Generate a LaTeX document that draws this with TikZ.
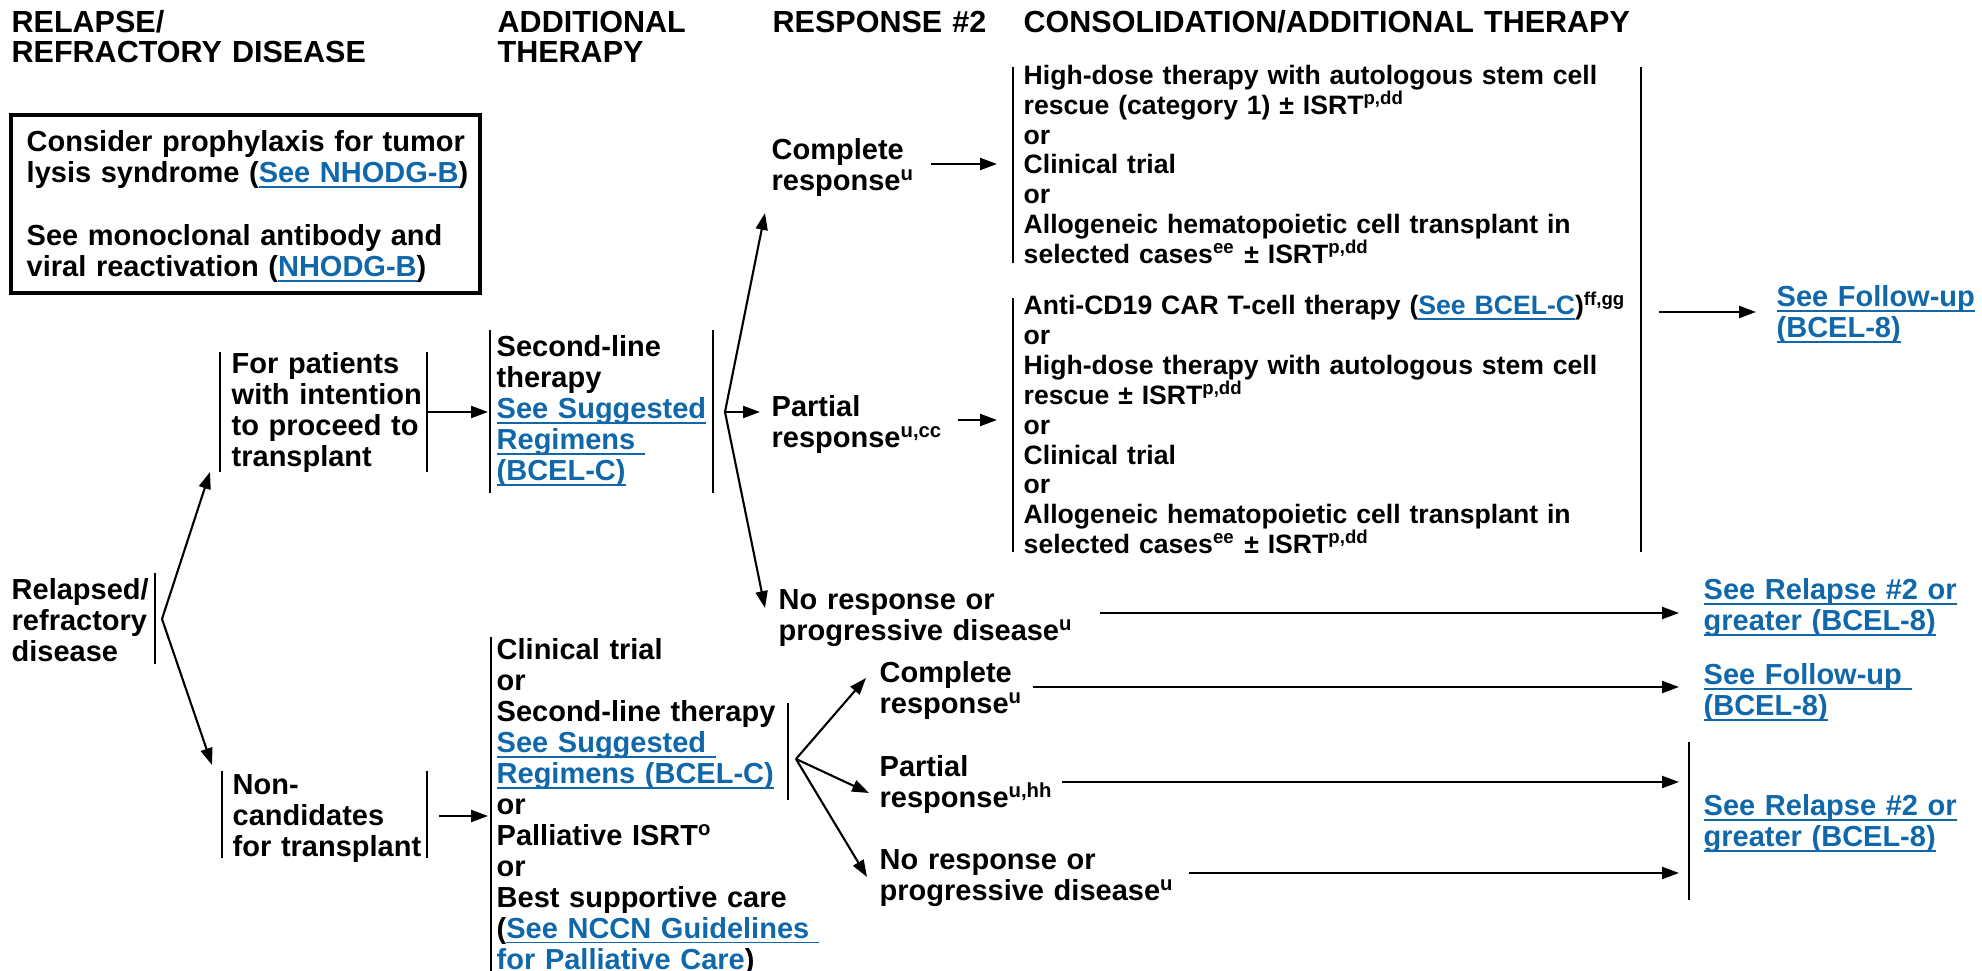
\documentclass[tikz,border=0pt]{standalone}
\usepackage{fontspec}
\setmainfont{Liberation Sans}
\usepackage{xcolor}
\usepackage{tikz}
\usetikzlibrary{arrows.meta}

\definecolor{linkblue}{RGB}{16,104,170}
\newcommand{\lnk}[1]{\textcolor{linkblue}{\setbox0\hbox{#1}\rlap{\rule[-1.45pt]{\wd0}{0.55pt}}#1}}
\newcommand{\bodyfont}{\fontsize{8.25}{8.80}\selectfont\bfseries}
\newcommand{\consfont}{\fontsize{7.57}{8.48}\selectfont\bfseries}
\newcommand{\headfont}{\fontsize{8.68}{8.54}\selectfont\bfseries}

\tikzset{
  txt/.style={anchor=base west, inner sep=0pt, align=left, text width=#1, font=\bodyfont},
  cons/.style={txt=#1, font=\consfont},
  head/.style={txt=#1, font=\headfont},
  bar/.style={line width=0.75pt},
  arr/.style={line width=0.6pt, -{Triangle[length=4.8pt,width=3.4pt]}},
}

\begin{document}
\begin{tikzpicture}
\useasboundingbox (0,0) rectangle (19.82,-9.71);

% Headers
\node[head=4cm] (hrelapse) at (0.11,-0.33) {RELAPSE/\\REFRACTORY DISEASE};
\node[head=3cm] (hadd) at (4.97,-0.33) {ADDITIONAL\\THERAPY};
\node[head=3cm] (hresp) at (7.72,-0.33) {RESPONSE \#2};
\node[head=8cm] (hcons) at (10.23,-0.33) {CONSOLIDATION/ADDITIONAL THERAPY};

% Note
\draw[line width=0.9pt] (0.11,-1.15) rectangle (4.80,-2.93);
\node[txt=4.5cm] (note) at (0.26,-1.52) {Consider prophylaxis for tumor\\lysis syndrome (\lnk{See NHODG-B})\\[0.32cm]See monoclonal antibody and\\viral reactivation (\lnk{NHODG-B})};

% Relapsed / refractory
\node[txt=2cm] (relapsed) at (0.11,-6.00) {Relapsed/\\refractory\\disease};
\draw[bar] (1.55,-5.73) -- (1.55,-6.64);
\coordinate (rsplit) at (1.62,-6.19);
\coordinate (totransp) at (2.10,-4.72);
\coordinate (tononc) at (2.12,-7.65);
\draw[arr] (rsplit) -- (totransp);
\draw[arr] (rsplit) -- (tononc);

% Transplant branch
\node[txt=2.2cm] (transpl) at (2.31,-3.74) {For patients\\with intention\\to proceed to\\transplant};
\draw[bar] (2.20,-3.52) -- (2.20,-4.72);
\draw[bar] (4.27,-3.52) -- (4.27,-4.72);
\coordinate (transpout) at (4.27,-4.12);
\coordinate (seclin) at (4.88,-4.12);
\draw[arr] (transpout) -- (seclin);

\node[txt=2.3cm] (secline) at (4.96,-3.57) {Second-line\\therapy\\\lnk{See Suggested}\\\lnk{Regimens }\\\lnk{(BCEL-C)}};
\draw[bar] (4.90,-3.30) -- (4.90,-4.93);
\draw[bar] (7.13,-3.30) -- (7.13,-4.93);
\coordinate (ssplit) at (7.25,-4.12);
\coordinate (tocr1) at (7.65,-2.13);
\coordinate (topr1) at (7.60,-4.12);
\coordinate (tonr1) at (7.65,-6.08);
\draw[arr] (ssplit) -- (tocr1);
\draw[arr] (ssplit) -- (topr1);
\draw[arr] (ssplit) -- (tonr1);

\node[txt=2cm] (cr1) at (7.71,-1.60) {Complete\\response\textsuperscript{u}};
\node[txt=2.2cm] (pr1) at (7.71,-4.17) {Partial\\response\textsuperscript{u,cc}};
\node[txt=3cm] (nr1) at (7.78,-6.10) {No response or\\progressive disease\textsuperscript{u}};

% Consolidation
\node[cons=6.3cm] (cons1) at (10.23,-0.845) {High-dose therapy with autologous stem cell\\rescue (category 1) ± ISRT\textsuperscript{p,dd}\\or\\Clinical trial\\or\\Allogeneic hematopoietic cell transplant in\\selected cases\textsuperscript{ee} ± ISRT\textsuperscript{p,dd}};
\node[cons=6.3cm] (cons2) at (10.23,-3.15) {Anti-CD19 CAR T-cell therapy (\lnk{See BCEL-C})\textsuperscript{ff,gg}\\or\\High-dose therapy with autologous stem cell\\rescue ± ISRT\textsuperscript{p,dd}\\or\\Clinical trial\\or\\Allogeneic hematopoietic cell transplant in\\selected cases\textsuperscript{ee} ± ISRT\textsuperscript{p,dd}};
\draw[bar] (10.13,-0.67) -- (10.13,-2.63);
\draw[bar] (10.13,-2.98) -- (10.13,-5.52);
\draw[bar] (16.41,-0.67) -- (16.41,-5.52);
\coordinate (cr1out) at (9.31,-1.64);
\coordinate (cons1in) at (9.97,-1.64);
\coordinate (pr1out) at (9.58,-4.20);
\coordinate (cons2in) at (9.97,-4.20);
\draw[arr] (cr1out) -- (cons1in);
\draw[arr] (pr1out) -- (cons2in);

\node[txt=2cm] (fu1) at (17.76,-3.07) {\lnk{See Follow-up}\\\lnk{(BCEL-8)}};
\coordinate (consout) at (16.59,-3.12);
\coordinate (fu1in) at (17.56,-3.12);
\draw[arr] (consout) -- (fu1in);

\node[txt=2.7cm] (rel1) at (17.03,-6.00) {\lnk{See Relapse \#2 or}\\\lnk{greater (BCEL-8)}};
\coordinate (nr1out) at (11.00,-6.13);
\coordinate (rel1in) at (16.79,-6.13);
\draw[arr] (nr1out) -- (rel1in);

% Non-candidates branch
\node[txt=2.2cm] (noncand) at (2.32,-7.95) {Non-\\candidates\\for transplant};
\draw[bar] (2.22,-7.71) -- (2.22,-8.58);
\draw[bar] (4.27,-7.71) -- (4.27,-8.58);
\coordinate (noncout) at (4.39,-8.16);
\coordinate (palliin) at (4.88,-8.16);
\draw[arr] (noncout) -- (palliin);

\node[txt=3.3cm] (palli) at (4.96,-6.60) {Clinical trial\\or\\Second-line therapy\\\lnk{See Suggested }\\\lnk{Regimens (BCEL-C)}\\or\\Palliative ISRT\textsuperscript{o}\\or\\Best supportive care\\(\lnk{See NCCN Guidelines }\\\lnk{for Palliative Care})};
\draw[bar] (4.91,-6.37) -- (4.91,-9.71);
\draw[bar] (7.88,-7.03) -- (7.88,-8.00);
\coordinate (psplit) at (7.96,-7.59);
\coordinate (tocr2) at (8.66,-6.78);
\coordinate (topr2) at (8.69,-7.93);
\coordinate (tonr2) at (8.67,-8.77);
\draw[arr] (psplit) -- (tocr2);
\draw[arr] (psplit) -- (topr2);
\draw[arr] (psplit) -- (tonr2);

\node[txt=2cm] (cr2) at (8.79,-6.83) {Complete\\response\textsuperscript{u}};
\node[txt=2.2cm] (pr2) at (8.79,-7.77) {Partial\\response\textsuperscript{u,hh}};
\node[txt=3cm] (nr2) at (8.79,-8.70) {No response or\\progressive disease\textsuperscript{u}};

\node[txt=2.7cm] (fu2) at (17.03,-6.85) {\lnk{See Follow-up }\\\lnk{(BCEL-8)}};
\node[txt=2.7cm] (rel2) at (17.03,-8.16) {\lnk{See Relapse \#2 or}\\\lnk{greater (BCEL-8)}};
\draw[bar] (16.89,-7.42) -- (16.89,-9.00);
\coordinate (cr2out) at (10.33,-6.87);
\coordinate (fu2in) at (16.79,-6.87);
\coordinate (pr2out) at (10.62,-7.82);
\coordinate (rel2a) at (16.79,-7.82);
\coordinate (nr2out) at (11.89,-8.73);
\coordinate (rel2b) at (16.79,-8.73);
\draw[arr] (cr2out) -- (fu2in);
\draw[arr] (pr2out) -- (rel2a);
\draw[arr] (nr2out) -- (rel2b);
\end{tikzpicture}
\end{document}
